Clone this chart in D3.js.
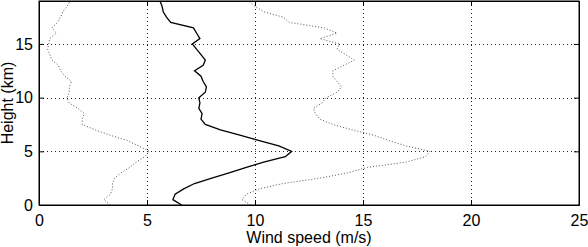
<!DOCTYPE html>
<html>
<head>
<meta charset="utf-8">
<script src="https://cdn.jsdelivr.net/npm/d3@7"></script>
<style>
  body { margin: 0; background: #fff; }
  text { font-family: "Liberation Sans", Arial, sans-serif; }
</style>
</head>
<body>
<div id="chart"></div>
<script>
// heights in km, every 0.5 km
const heights = d3.range(0, 19.01, 0.5)

// mean wind speed (m/s)
const meanSpeed = [6.6, 6.2, 6.3, 6.7, 7.2, 8.0, 8.8, 9.6, 10.4, 11.4,
	11.7, 11.1, 10.2, 9.3, 8.4, 7.7, 7.5, 7.55, 7.4, 7.45,
	7.4, 7.7, 7.75, 7.6, 7.5, 7.2, 7.6, 7.7, 7.5, 7.3,
	7.1, 7.45, 7.3, 7.15, 6.1, 5.9, 5.75, 5.7, 5.6]

// lower bound (dotted)
const lowSpeed = [3.3, 3.0, 3.3, 3.4, 3.4, 3.5, 3.8, 4.2, 4.5, 4.9,
	5.1, 4.6, 4.1, 3.3, 2.6, 2.0, 2.0, 2.1, 1.8, 1.4,
	1.3, 1.4, 1.4, 1.5, 1.2, 1.0, 0.9, 0.6, 0.5, 0.4,
	0.45, 0.5, 0.8, 0.6, 0.85, 1.0, 1.1, 1.3, 1.45]

// upper bound (dotted)
const highSpeed = [9.8, 9.4, 9.6, 10.2, 11.3, 13.0, 14.3, 15.2, 17.0, 17.9,
	18.1, 17.0, 16.2, 15.5, 14.5, 13.6, 13.0, 12.8, 12.7, 13.1,
	13.3, 13.8, 14.0, 13.8, 13.6, 13.6, 14.1, 14.6, 14.2, 13.8,
	13.9, 13.0, 13.8, 13.2, 11.6, 11.3, 10.4, 10.0, 9.7]

const xTicks = [0, 5, 10, 15, 20, 25]
const yTicks = [0, 5, 10, 15]

const W = 588, H = 247
const margin = {top: 1, right: 9, bottom: 42, left: 39},
	w = W - margin.left - margin.right,
	h = H - margin.top - margin.bottom

const svg = d3.select("#chart")
	.append("svg")
	.attr("width", W)
	.attr("height", H)
	.append("g")
	.attr("transform", `translate(${margin.left},${margin.top})`)

const x = d3.scaleLinear().domain([0, 25]).range([0, w])
const y = d3.scaleLinear().domain([0, 19]).range([h, 0])

// dotted grid
svg.append("g")
	.selectAll("line")
	.data(xTicks.filter(d => d > 0 && d < 25))
	.enter().append("line")
	.attr("x1", d => x(d) + 0.5).attr("x2", d => x(d) + 0.5)
	.attr("y1", 0).attr("y2", h)
	.attr("stroke", "#222")
	.attr("stroke-dasharray", "1,3")

svg.append("g")
	.selectAll("line")
	.data(yTicks.filter(d => d > 0))
	.enter().append("line")
	.attr("y1", d => Math.round(y(d)) + 0.5).attr("y2", d => Math.round(y(d)) + 0.5)
	.attr("x1", 0).attr("x2", w)
	.attr("stroke", "#222")
	.attr("stroke-dasharray", "1,3")

// profiles
const line = vals => d3.line()
	.x((d, i) => x(vals[i]))
	.y(d => y(d))(heights)

svg.append("path")
	.attr("d", line(lowSpeed))
	.attr("fill", "none")
	.attr("stroke", "#555")
	.attr("stroke-width", 1)
	.attr("stroke-dasharray", "1,2")

svg.append("path")
	.attr("d", line(highSpeed))
	.attr("fill", "none")
	.attr("stroke", "#555")
	.attr("stroke-width", 1)
	.attr("stroke-dasharray", "1,2")

svg.append("path")
	.attr("d", line(meanSpeed))
	.attr("fill", "none")
	.attr("stroke", "#000")
	.attr("stroke-width", 1.3)

// axes, MATLAB style with inward ticks on all sides
svg.append("g")
	.attr("transform", `translate(0,${h})`)
	.call(d3.axisBottom(x).tickValues(xTicks).tickSizeInner(-5).tickSizeOuter(0).tickPadding(10))
svg.append("g")
	.call(d3.axisTop(x).tickValues(xTicks).tickSizeInner(-5).tickSizeOuter(0).tickFormat(""))
svg.append("g")
	.call(d3.axisLeft(y).tickValues(yTicks).tickSizeInner(-5).tickSizeOuter(0).tickPadding(6))
svg.append("g")
	.attr("transform", `translate(${w},0)`)
	.call(d3.axisRight(y).tickValues(yTicks).tickSizeInner(-5).tickSizeOuter(0).tickFormat(""))

svg.selectAll(".domain").attr("stroke", "#000")
svg.selectAll(".tick line").attr("stroke", "#000")
svg.selectAll(".tick text")
	.attr("fill", "#000")
	.style("font-size", "16px")
	.style("font-family", "Liberation Sans, Arial, sans-serif")

svg.append("rect")
	.attr("x", 0).attr("y", 0)
	.attr("width", w).attr("height", h)
	.attr("fill", "none")
	.attr("stroke", "#000")

svg.append("text")
	.attr("x", w / 2)
	.attr("y", h + 38)
	.attr("text-anchor", "middle")
	.style("font-size", "16px")
	.text("Wind speed (m/s)")

svg.append("text")
	.attr("transform", `translate(${-26},${h / 2}) rotate(-90)`)
	.attr("text-anchor", "middle")
	.style("font-size", "16px")
	.text("Height (km)")
</script>
</body>
</html>
